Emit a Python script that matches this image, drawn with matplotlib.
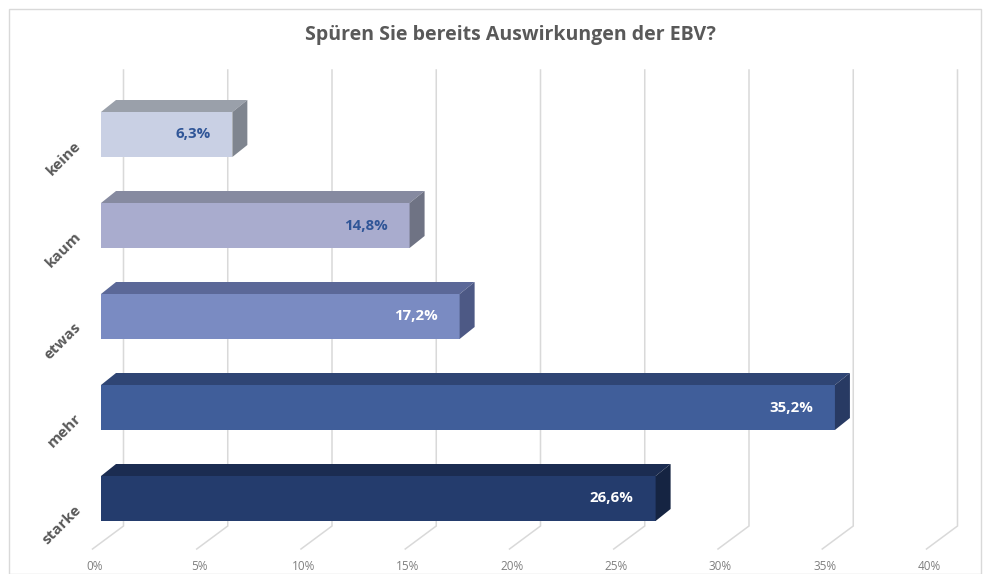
import matplotlib
matplotlib.use("Agg")
import matplotlib.pyplot as plt
from matplotlib.patches import Polygon, Rectangle

categories = ["keine", "kaum", "etwas", "mehr", "starke"]
values = [6.3, 14.8, 17.2, 35.2, 26.6]
value_labels = ["6,3%", "14,8%", "17,2%", "35,2%", "26,6%"]
ticks = [0, 5, 10, 15, 20, 25, 30, 35, 40]
tick_labels = ["0%", "5%", "10%", "15%", "20%", "25%", "30%", "35%", "40%"]
title = "Spüren Sie bereits Auswirkungen der EBV?"

front_colors = ["#c9d0e4", "#a9acce", "#7a8bc2", "#405e9a", "#243c6d"]
top_colors = ["#9aa0aa", "#868aa0", "#5b6898", "#2f4574", "#1b2c51"]
side_colors = ["#7f858f", "#6f7384", "#4d5985", "#283a63", "#152442"]
label_colors = ["#2f5597", "#2f5597", "#ffffff", "#ffffff", "#ffffff"]

W, H = 984, 574
fig = plt.figure(figsize=(W / 100, H / 100), dpi=100)
ax = fig.add_axes([0, 0, 1, 1])

# pixel-to-data scale
x0_px, px_per_pct = 101.0, 20.85
y0_px, px_per_cat = 134.5, 91.0
ax.set_xlim(-x0_px / px_per_pct, (W - x0_px) / px_per_pct)
ax.set_ylim((H - y0_px) / px_per_cat, -y0_px / px_per_cat)
ax.axis("off")

def dxp(px):
    return px / px_per_pct

def dyp(px):
    return px / px_per_cat

# gridlines (back wall + floor diagonals)
g_top, g_bot, g_floor = dyp(70 - y0_px), dyp(526 - y0_px), dyp(549 - y0_px)
for t in ticks:
    xb = t + dxp(22.5)
    xf = t + dxp(-8.5)
    ax.plot([xb, xb, xf], [g_top, g_bot, g_floor], color="#d9d9d9", lw=1.1, zorder=1,
            solid_joinstyle="miter")

# tick labels
for t, lab in zip(ticks, tick_labels):
    ax.text(t + dxp(-6), dyp(566 - y0_px), lab, ha="center", va="center",
            fontsize=8.5, color="#7f7f7f", family="Open Sans")

# bars
h = 45 / px_per_cat
ddx, ddy = dxp(15), dyp(-12)
ypos = list(range(len(categories)))
ax.barh(ypos, values, height=h, left=0, color=front_colors, zorder=3, linewidth=0)
for i, v in enumerate(values):
    yt, yb = i - h / 2, i + h / 2
    top = Polygon([(0, yt), (v, yt), (v + ddx, yt + ddy), (ddx, yt + ddy)],
                  closed=True, facecolor=top_colors[i], edgecolor="none", zorder=3)
    side = Polygon([(v, yt), (v, yb), (v + ddx, yb + ddy), (v + ddx, yt + ddy)],
                   closed=True, facecolor=side_colors[i], edgecolor="none", zorder=3)
    ax.add_patch(top)
    ax.add_patch(side)
    ax.text(v - dxp(22), i, value_labels[i], ha="right", va="center",
            fontsize=10.8, fontweight="bold", color=label_colors[i], family="Open Sans",
            zorder=5)
    ax.text(dxp(-22), i + dyp(9), categories[i], ha="right", va="center",
            rotation=45, rotation_mode="anchor", fontsize=11, fontweight="bold",
            color="#595959", family="Open Sans", zorder=5)

# title
ax.text(dxp(510 - x0_px), dyp(35 - y0_px), title, ha="center", va="center",
        fontsize=14, fontweight="bold", color="#595959", family="Open Sans")

# chart border
fig.patches.append(Rectangle((9 / W, 0), (W - 12) / W, (H - 9) / H, transform=fig.transFigure,
                             fill=False, edgecolor="#d9d9d9", lw=1))

fig.savefig("out.png", dpi=100)
